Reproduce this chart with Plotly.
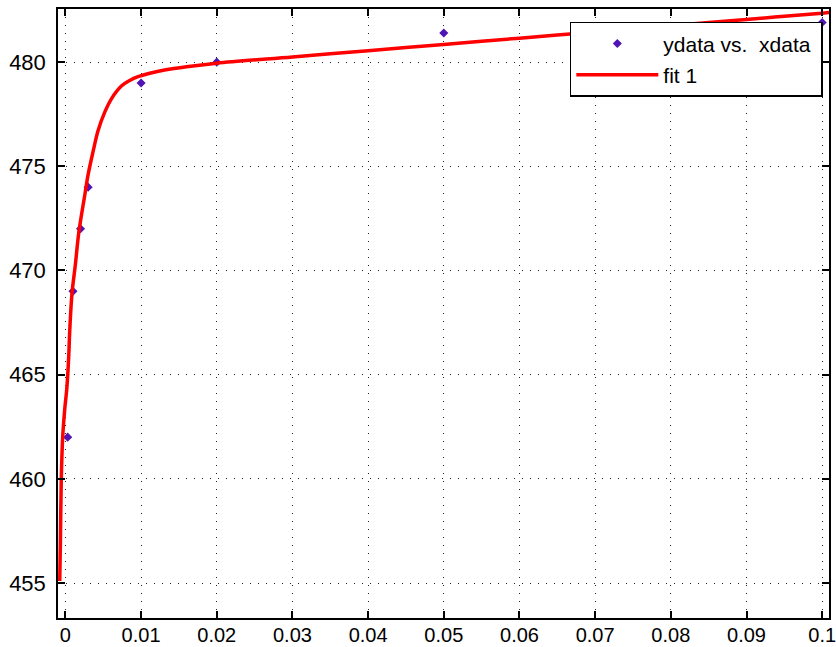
import plotly.graph_objects as go

# Measured data points
xdata = [0.0003, 0.001, 0.002, 0.003, 0.01, 0.02, 0.05, 0.1]
ydata = [462.0, 469.0, 472.0, 474.0, 479.0, 480.0, 481.4, 481.9]

# Fit curve
fit_x = [-0.00075, -0.00066, -0.00055, -0.00036, -0.0001, 0.0002, 0.00044, 0.00057, 0.00087,
         0.00132, 0.00176, 0.00255, 0.003, 0.00365, 0.0043, 0.0052, 0.0061, 0.0074,
         0.0085, 0.0096, 0.0113, 0.0131, 0.016, 0.02, 0.03, 0.04, 0.05, 0.06, 0.07, 0.08,
         0.09, 0.1, 0.1009]
fit_y = [455.1, 457.0, 459.9, 462.0, 463.3, 464.4, 465.9, 467.1, 468.9,
         470.3, 471.8, 473.6, 474.6, 475.7, 476.7, 477.6, 478.25, 478.85,
         479.12, 479.3, 479.48, 479.62, 479.78, 479.95, 480.25, 480.55, 480.85, 481.15, 481.45, 481.75,
         482.05, 482.35, 482.38]

x_ticks = [0, 0.01, 0.02, 0.03, 0.04, 0.05, 0.06, 0.07, 0.08, 0.09, 0.1]
x_labels = ["0", "0.01", "0.02", "0.03", "0.04", "0.05", "0.06", "0.07", "0.08", "0.09", "0.1"]
y_ticks = [455, 460, 465, 470, 475, 480]
y_labels = ["455", "460", "465", "470", "475", "480"]

fig = go.Figure()
fig.add_trace(go.Scatter(
    x=xdata, y=ydata, mode="markers", name="ydata vs.\u00a0 xdata\u00a0", legendgroup="a",
    marker=dict(symbol="diamond", size=7, color="#5014b4"),
))
fig.add_trace(go.Scatter(
    x=fit_x, y=fit_y, mode="lines", name="fit 1", legendgroup="b",
    line=dict(color="#ff0000", width=3.5, shape="spline", smoothing=1.0),
))

font_family = "Liberation Sans, Arial, sans-serif"
axis_common = dict(
    showline=True, linecolor="black", linewidth=1.5, mirror="ticks",
    ticks="inside", ticklen=7, tickwidth=1.5, tickcolor="black",
    showgrid=True, gridcolor="#222222", gridwidth=1, griddash="1px,7px",
    zeroline=False, automargin=False, ticklabeloverflow="allow",
)

fig.update_xaxes(range=[-0.00098, 0.1009], tickvals=x_ticks, ticktext=x_labels,
                 ticklabelstandoff=-2,
                 tickfont=dict(family=font_family, size=20, color="black"), **axis_common)
fig.update_yaxes(range=[453.32, 482.55], tickvals=y_ticks, ticktext=y_labels,
                 ticklabelstandoff=6,
                 tickfont=dict(family=font_family, size=22, color="black"), **axis_common)

fig.update_layout(
    width=836, height=647,
    margin=dict(l=58, r=7, t=9, b=29),
    plot_bgcolor="white", paper_bgcolor="white",
    showlegend=True,
    legend=dict(
        x=0.992, y=0.979, xanchor="right", yanchor="top",
        bgcolor="white", bordercolor="black", borderwidth=1.5,
        font=dict(family=font_family, size=21, color="black"),
        itemwidth=82, tracegroupgap=1,
    ),
)

fig.write_html("out.html")
